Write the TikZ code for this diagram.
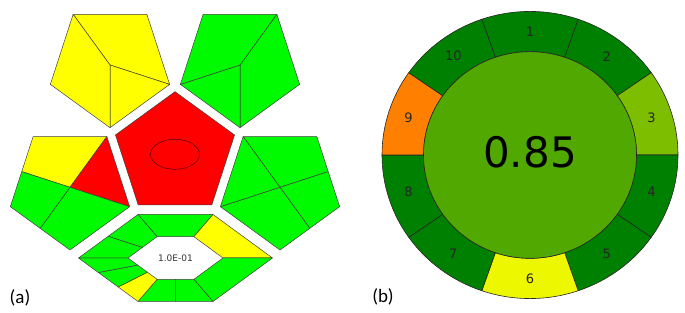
\documentclass[tikz,border=0pt]{standalone}
\usepackage{fontspec}
\setmainfont{DejaVu Sans}
\newfontfamily\panelfont{Carlito}
\usetikzlibrary{calc}

\definecolor{gapigreen}{RGB}{0,250,0}
\definecolor{gapiyellow}{RGB}{255,255,0}
\definecolor{gapired}{RGB}{255,0,0}
\definecolor{agdark}{RGB}{0,128,0}
\definecolor{aglime}{RGB}{125,190,0}
\definecolor{agorange}{RGB}{255,128,0}
\definecolor{agyellow}{RGB}{237,247,0}
\definecolor{agcentre}{RGB}{80,168,0}

\begin{document}
\begin{tikzpicture}[x=1pt, y=1pt, line join=round,
    part/.style={draw=black!75, line width=0.5pt},
    seg/.style={draw=black!85, line width=0.6pt}]
    \useasboundingbox (0,0) rectangle (685,313);

    % pentagons of (a)
    \coordinate (tl) at (110,248);
    \coordinate (tr) at (240,248);
    \coordinate (bl) at (70,125.7);
    \coordinate (br) at (280,125.7);
    \coordinate (ce) at (175,158.7);
    \foreach \p in {tl,tr,bl,br} {
        \foreach \v/\a in {1/126,2/54,3/-18,4/-90,5/198} {
            \coordinate (\p\v) at ($(\p)+(\a:62.7)$);
        }
    }
    \foreach \v/\a in {1/90,2/18,3/-54,4/-126,5/162} {
        \coordinate (ce\v) at ($(ce)+(\a:62.6)$);
    }

    % top left
    \filldraw[part, fill=gapiyellow] (tl) -- (tl1) -- (tl2) -- (tl3) -- cycle;
    \filldraw[part, fill=gapiyellow] (tl) -- (tl3) -- (tl4) -- cycle;
    \filldraw[part, fill=gapiyellow] (tl) -- (tl4) -- (tl5) -- (tl1) -- cycle;

    % top right
    \filldraw[part, fill=gapigreen] (tr) -- (tr2) -- (tr3) -- (tr4) -- cycle;
    \filldraw[part, fill=gapigreen] (tr) -- (tr4) -- (tr5) -- cycle;
    \filldraw[part, fill=gapigreen] (tr) -- (tr5) -- (tr1) -- (tr2) -- cycle;

    % middle
    \filldraw[part, fill=gapired] (ce1) -- (ce2) -- (ce3) -- (ce4) -- (ce5) -- cycle;
    \draw[black!70!red, line width=0.5pt] (ce) ellipse[x radius=24.5, y radius=15];

    % bottom left
    \coordinate (bm1) at ($(bl5)!0.5!(bl1)$);
    \coordinate (bm2) at ($(bl4)!0.5!(bl5)$);
    \filldraw[part, fill=gapiyellow] (bl) -- (bm1) -- (bl1) -- (bl2) -- cycle;
    \filldraw[part, fill=gapired] (bl) -- (bl2) -- (bl3) -- cycle;
    \filldraw[part, fill=gapigreen] (bl) -- (bl3) -- (bl4) -- (bm2) -- cycle;
    \filldraw[part, fill=gapigreen] (bl) -- (bm2) -- (bl5) -- (bm1) -- cycle;

    % bottom right
    \coordinate (rm1) at ($(br2)!0.5!(br3)$);
    \coordinate (rm2) at ($(br3)!0.5!(br4)$);
    \filldraw[part, fill=gapigreen] (br) -- (br1) -- (br2) -- (rm1) -- cycle;
    \filldraw[part, fill=gapigreen] (br) -- (rm1) -- (br3) -- (rm2) -- cycle;
    \filldraw[part, fill=gapigreen] (br) -- (rm2) -- (br4) -- (br5) -- cycle;
    \filldraw[part, fill=gapigreen] (br) -- (br5) -- (br1) -- cycle;

    % hexagon
    \coordinate (hx) at (175.5,55);
    \foreach \v/\dx/\dy in {1/-37.5/43.5, 2/37.5/43.5, 3/97/0, 4/37.5/-43.5, 5/-37.5/-43.5, 6/-97/0} {
        \coordinate (o\v) at ($(hx)+(\dx,\dy)$);
        \coordinate (i\v) at ($(hx)+0.49*(\dx,\dy)$);
    }
    \coordinate (ob) at ($(o4)!0.5!(o5)$);
    \coordinate (ib) at ($(i4)!0.5!(i5)$);
    \coordinate (p1) at ($(o6)!1/3!(o5)$);
    \coordinate (p2) at ($(o6)!2/3!(o5)$);
    \coordinate (q1) at ($(i6)!1/3!(i5)$);
    \coordinate (q2) at ($(i6)!2/3!(i5)$);
    \coordinate (ou) at ($(o1)!0.5!(o6)$);
    \coordinate (iu) at ($(i1)!0.5!(i6)$);
    \filldraw[part, fill=gapigreen] (o1) -- (o2) -- (i2) -- (i1) -- cycle;
    \filldraw[part, fill=gapiyellow] (o2) -- (o3) -- (i3) -- (i2) -- cycle;
    \filldraw[part, fill=gapigreen] (o3) -- (o4) -- (i4) -- (i3) -- cycle;
    \filldraw[part, fill=gapigreen] (o4) -- (ob) -- (ib) -- (i4) -- cycle;
    \filldraw[part, fill=gapigreen] (ob) -- (o5) -- (i5) -- (ib) -- cycle;
    \filldraw[part, fill=gapiyellow] (p2) -- (o5) -- (i5) -- (q2) -- cycle;
    \filldraw[part, fill=gapigreen] (p1) -- (p2) -- (q2) -- (q1) -- cycle;
    \filldraw[part, fill=gapigreen] (o6) -- (p1) -- (q1) -- (i6) -- cycle;
    \filldraw[part, fill=gapigreen] (ou) -- (iu) -- (i6) -- (o6) -- cycle;
    \filldraw[part, fill=gapigreen] (o1) -- (i1) -- (iu) -- (ou) -- cycle;
    \node[font=\fontsize{9}{9}\selectfont, text=black!80] (lod) at (hx) {1.0E-01};

    % wheel of (b)
    \coordinate (wc) at (530,158);
    \begin{scope}[shift={(wc)}, yscale=0.97]
        \foreach \a/\b/\c/\n in {71/109/agdark/1, 35/71/agdark/2, 0/35/aglime/3,
            -35/0/agdark/4, -71/-35/agdark/5, -109/-71/agyellow/6, -145/-109/agdark/7,
            -180/-145/agdark/8, 145/180/agorange/9, 109/145/agdark/10} {
            \filldraw[seg, fill=\c] (\a:106.5) -- (\a:148) arc[start angle=\a, end angle=\b, radius=148]
                -- (\b:106.5) arc[start angle=\b, end angle=\a, radius=106.5] -- cycle;
            \node[font=\fontsize{13}{13}\selectfont, text=black!85] (s\n) at ({(\a+\b)/2}:127.5) {\n};
        }
        \filldraw[seg, fill=agcentre] (0,0) circle[radius=106.5];
    \end{scope}
    \node[font=\fontsize{42}{42}\selectfont] (score) at (530,160.5) {0.85};

    % panel labels
    \node[font=\panelfont\fontsize{19}{19}\selectfont] (pa) at (20,15.5) {(a)};
    \node[font=\panelfont\fontsize{19}{19}\selectfont] (pb) at (383,16) {(b)};
\end{tikzpicture}
\end{document}
